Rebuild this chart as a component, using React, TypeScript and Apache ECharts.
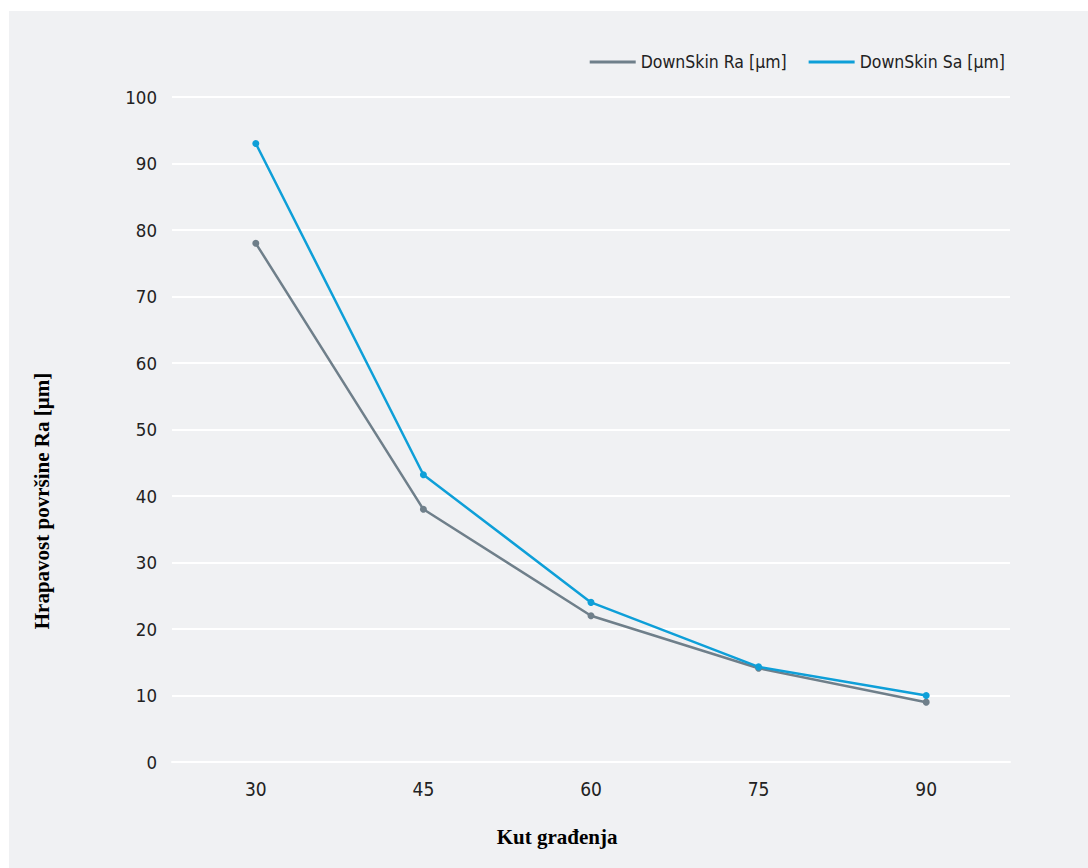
import React, { useEffect, useRef } from "react";
import * as echarts from "echarts";

const categories = ["30", "45", "60", "75", "90"];
const raValues = [78, 38, 22, 14.1, 9];
const saValues = [93, 43.2, 24, 14.3, 10];
const raName = "DownSkin Ra [µm]";
const saName = "DownSkin Sa [µm]";
const yAxisTitle = "Hrapavost površine Ra [µm]";
const xAxisTitle = "Kut građenja";

const SANS = "'DejaVu Sans Condensed', 'Open Sans', sans-serif";

export default function App() {
  const ref = useRef<HTMLDivElement>(null);
  useEffect(() => {
    document.body.style.margin = "0";
    const chart = echarts.init(ref.current!, null, { renderer: "svg" });
    chart.setOption({
      animation: false,
      backgroundColor: "#ffffff",
      textStyle: { fontFamily: SANS },
      graphic: [
        {
          type: "rect",
          z: -10,
          shape: { x: 9, y: 11, width: 1079, height: 857 },
          style: { fill: "#f0f1f3" },
          silent: true,
        },
        {
          type: "text",
          x: 42,
          y: 501,
          rotation: Math.PI / 2,
          style: {
            text: yAxisTitle,
            font: "bold 21px 'Liberation Serif'",
            fill: "#000",
            align: "center",
            verticalAlign: "middle",
          },
        },
        {
          type: "text",
          x: 557,
          y: 837,
          style: {
            text: xAxisTitle,
            font: "bold 21px 'Liberation Serif'",
            fill: "#000",
            align: "center",
            verticalAlign: "middle",
          },
        },
      ],
      legend: {
        right: 78,
        top: 48,
        itemWidth: 46,
        itemHeight: 3,
        itemGap: 22,
        icon: "rect",
        textStyle: { fontSize: 17.5, color: "#222", fontFamily: SANS },
        data: [
          { name: raName, icon: "rect" },
          { name: saName, icon: "rect" },
        ],
      },
      grid: { left: 172, right: 78, top: 97, bottom: 106 },
      xAxis: {
        type: "category",
        data: categories,
        boundaryGap: true,
        axisLine: { lineStyle: { color: "#ffffff", width: 2 } },
        axisTick: { alignWithLabel: true, length: 8, lineStyle: { color: "#ffffff", width: 2 } },
        axisLabel: { fontSize: 19, color: "#222", margin: 17, fontFamily: SANS },
      },
      yAxis: {
        type: "value",
        min: 0,
        max: 100,
        interval: 10,
        axisLine: { show: false },
        axisTick: { show: false },
        axisLabel: { fontSize: 18.5, color: "#222", margin: 15, fontFamily: SANS },
        splitLine: { lineStyle: { color: "#ffffff", width: 2 } },
      },
      series: [
        {
          name: raName,
          type: "line",
          data: raValues,
          symbol: "circle",
          symbolSize: 7,
          color: "#6f7f8a",
          lineStyle: { width: 2.5, color: "#6f7f8a" },
          itemStyle: { color: "#6f7f8a" },
        },
        {
          name: saName,
          type: "line",
          data: saValues,
          symbol: "circle",
          symbolSize: 7,
          color: "#0e9fd8",
          lineStyle: { width: 2.5, color: "#0e9fd8" },
          itemStyle: { color: "#0e9fd8" },
        },
      ],
    });
    return () => chart.dispose();
  }, []);
  return <div ref={ref} style={{ width: 1088, height: 868 }} />;
}
